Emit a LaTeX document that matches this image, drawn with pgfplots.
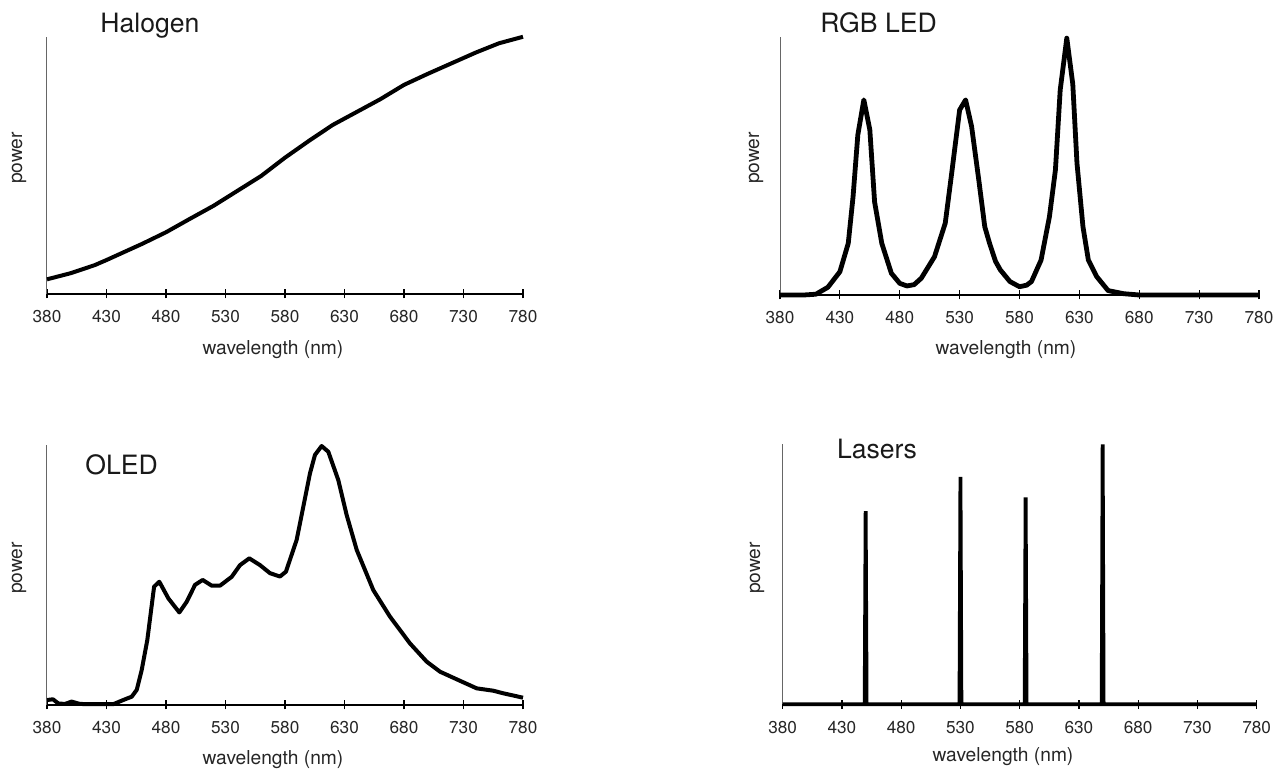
\documentclass[border=0pt]{standalone}
\usepackage{fontspec}
\setmainfont{TeX Gyre Heros}
\usepackage{pgfplots}
\pgfplotsset{compat=1.18}

% common look of the four spectra
\pgfplotsset{spec/.style={
  scale only axis, anchor=south west,
  xmin=380, xmax=780, ymin=0, ymax=1,
  axis x line=bottom, axis y line=left,
  axis line style={-},
  x axis line style={black, line width=0.7pt},
  y axis line style={black!60, line width=0.5pt},
  xtick={380,430,...,780}, ytick=\empty,
  xtick align=center, major tick length=4.5pt,
  xtick style={black, line width=0.6pt},
  xticklabel style={font=\fontsize{8.6}{10}\selectfont, text=black!85, yshift=-2.5pt},
  /pgf/number format/assume math mode=true,
  /pgf/number format/1000 sep={},
  clip=false,
},
specline/.style={black, line width=2pt, line join=round, mark=none}}

\begin{document}
\begin{tikzpicture}
\useasboundingbox (0,0) rectangle (640pt,385pt);

% Halogen
\begin{axis}[spec, at={(23.5pt,238pt)}, width=238pt, height=128.6pt]
\addplot[specline] coordinates {
 (380,0.057) (400,0.081) (420,0.112) (430,0.132) (440,0.153) (460,0.195)
 (480,0.240) (500,0.292) (520,0.343) (540,0.401) (560,0.459) (580,0.530)
 (600,0.595) (620,0.657) (640,0.707) (660,0.757) (680,0.813) (700,0.856)
 (720,0.897) (740,0.938) (760,0.975) (780,1.0)
};
\end{axis}

% RGB LED
\begin{axis}[spec, at={(390pt,237.5pt)}, width=239.5pt, height=129.2pt]
\addplot[specline, line width=2.4pt] coordinates {
 (380,0) (400,0) (410,0.003) (420,0.03) (430,0.09) (437,0.2) (441,0.38)
 (445,0.62) (450,0.755) (455,0.64) (459,0.36) (465,0.2) (473,0.084)
 (480,0.045) (486,0.035) (492,0.04) (498,0.065) (509,0.148) (518,0.278)
 (523,0.458) (530,0.716) (535,0.755) (540,0.652) (546,0.445) (551,0.264)
 (555,0.2) (560,0.13) (564,0.097) (572,0.052) (580,0.032) (586,0.038)
 (590,0.052) (598,0.135) (605,0.303) (610,0.484) (614,0.794) (619.5,0.994)
 (624.5,0.816) (628,0.51) (633,0.264) (637.5,0.135) (644.5,0.071)
 (654,0.017) (667,0.005) (680,0) (780,0)
};
\end{axis}

% OLED
\begin{axis}[spec, at={(23.5pt,32.5pt)}, width=238pt, height=130pt]
\addplot[specline] coordinates {
 (380,0.019) (385,0.022) (389.5,0.006) (395,0.004) (400.7,0.013) (407.7,0.004)
 (420,0.003) (435.7,0.003) (444,0.019) (451.2,0.032) (455.4,0.058)
 (459.6,0.135) (464.3,0.25) (470,0.455) (474.4,0.474) (482,0.410)
 (491.2,0.356) (497.4,0.397) (504.4,0.462) (510.8,0.481) (518.4,0.459)
 (525.4,0.459) (535.2,0.493) (542.2,0.538) (550,0.564) (559,0.538)
 (567.4,0.507) (575.8,0.494) (580.8,0.513) (589.8,0.635) (595.4,0.763)
 (601,0.891) (605.2,0.962) (610.8,0.996) (616.4,0.974) (624.8,0.865)
 (631.8,0.731) (640.3,0.596) (654.2,0.442) (668.2,0.340) (685,0.237)
 (699,0.167) (710.3,0.128) (727.1,0.093) (741.1,0.064) (755,0.055)
 (763.4,0.045) (773.3,0.035) (780,0.028)
};
\end{axis}

% Lasers
\begin{axis}[spec, at={(391.35pt,32.85pt)}, width=237pt, height=130pt]
\addplot[specline, line width=1.9pt, line join=miter] coordinates {
 (380,0) (449.2,0) (450,0.743) (450.8,0) (529.2,0) (530,0.875) (530.8,0)
 (584.2,0) (585,0.796) (585.8,0) (649.2,0) (650,1.0) (650.8,0) (780,0)
};
\end{axis}

% titles
\begin{scope}[font=\fontsize{13.3}{15}\selectfont, text=black!90]
\node[anchor=base west, inner sep=0pt] at (50pt,368.5pt) {Halogen};
\node[anchor=base west, inner sep=0pt] at (410pt,368.5pt) {RGB LED};
\node[anchor=base west, inner sep=0pt] at (42.5pt,147.5pt) {OLED};
\node[anchor=base west, inner sep=0pt] at (418.3pt,155.5pt) {Lasers};
\end{scope}

% axis labels
\begin{scope}[font=\fontsize{9.6}{11}\selectfont, text=black!85]
\node at (136.5pt,210pt) {wavelength (nm)};
\node at (503pt,210pt) {wavelength (nm)};
\node at (136.5pt,5pt) {wavelength (nm)};
\node at (501.5pt,6.5pt) {wavelength (nm)};
\node[rotate=90] at (9.5pt,306pt) {power};
\node[rotate=90] at (378pt,306pt) {power};
\node[rotate=90] at (9.5pt,101pt) {power};
\node[rotate=90] at (378.5pt,101pt) {power};
\end{scope}
\end{tikzpicture}
\end{document}
